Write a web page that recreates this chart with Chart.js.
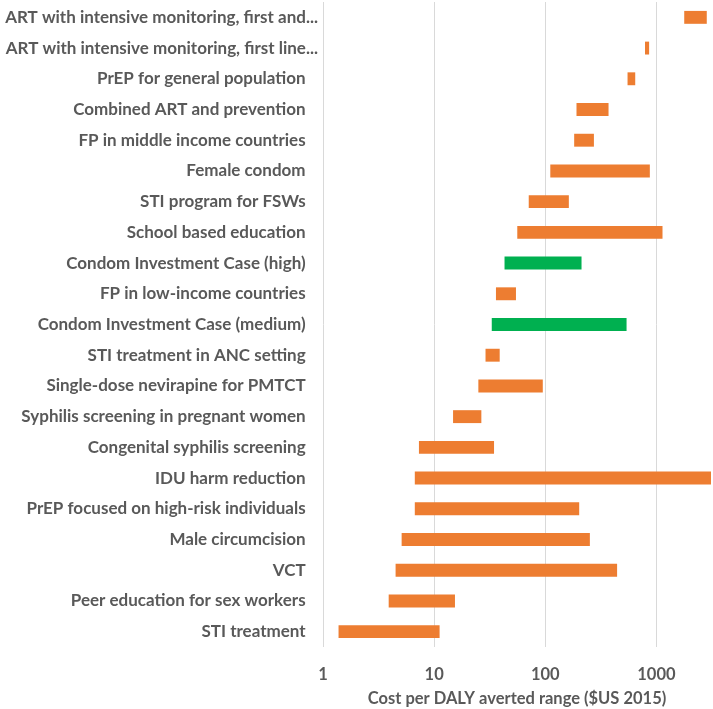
<!DOCTYPE html>
<html>
<head>
<meta charset="utf-8">
<script src="https://cdn.jsdelivr.net/npm/chart.js@4/dist/chart.umd.min.js"></script>
<style>
html,body{margin:0;padding:0;background:#fff;}
#wrap{width:713px;height:709px;position:relative;}
</style>
</head>
<body>
<div id="wrap"><canvas id="c"></canvas></div>
<script>
const categories = [
  "ART with intensive monitoring, first and...",
  "ART with intensive monitoring, first line...",
  "PrEP for general population",
  "Combined ART and prevention",
  "FP in middle income countries",
  "Female condom",
  "STI program for FSWs",
  "School based education",
  "Condom Investment Case (high)",
  "FP in low-income countries",
  "Condom Investment Case (medium)",
  "STI treatment in ANC setting",
  "Single-dose nevirapine for PMTCT",
  "Syphilis screening in pregnant women",
  "Congenital syphilis screening",
  "IDU harm reduction",
  "PrEP focused on high-risk individuals",
  "Male circumcision",
  "VCT",
  "Peer education for sex workers",
  "STI treatment"
];
const lowValues  = [1780, 790, 550, 191, 182, 111, 71, 56, 43, 36, 33, 29, 25, 14.8, 7.3, 6.7, 6.7, 5.1, 4.5, 3.9, 1.38];
const highValues = [2840, 860, 645, 371, 274, 873, 163, 1135, 212, 54.5, 539, 38.9, 95, 26.6, 34.6, 3100, 202, 252, 443, 15.4, 11.2];
const isInvestmentCase = [false,false,false,false,false,false,false,false,true,false,true,false,false,false,false,false,false,false,false,false,false];
const xTicks = [1, 10, 100, 1000];
const xTitle = "Cost per DALY averted range ($US 2015)";

const ORANGE = "#ED7D31", GREEN = "#00B050", GRAY = "#595959";
const FONT = "Lato";

const data = categories.map((c, i) => [lowValues[i], highValues[i]]);
const colors = isInvestmentCase.map(g => g ? GREEN : ORANGE);

new Chart(document.getElementById("c"), {
  type: "bar",
  data: {
    labels: categories,
    datasets: [{
      data: data,
      backgroundColor: colors,
      borderWidth: 0,
      barPercentage: 0.42,
      categoryPercentage: 1.0
    }]
  },
  options: {
    indexAxis: "y",
    responsive: true,
    maintainAspectRatio: false,
    animation: false,
    layout: { padding: { top: 2, right: 2, left: 0, bottom: 0 } },
    plugins: { legend: { display: false }, tooltip: { enabled: false } },
    scales: {
      x: {
        type: "logarithmic",
        min: 1,
        max: 3100,
        afterBuildTicks: (s) => { s.ticks = xTicks.map(v => ({ value: v })); },
        afterFit: (s) => { s.height = 62; s.paddingLeft = 0; s.paddingRight = 0; },
        border: { display: false },
        grid: { color: "#d9d9d9", lineWidth: 1, drawTicks: false },
        ticks: {
          color: GRAY,
          font: { family: FONT, size: 16.5, weight: "bold" },
          padding: 18,
          maxRotation: 0,
          autoSkip: false,
          callback: (v) => String(v)
        },
        title: {
          display: true,
          text: xTitle,
          color: GRAY,
          font: { family: FONT, size: 16.5, weight: "bold" },
          padding: { top: 0, bottom: 0 }
        }
      },
      y: {
        afterFit: (s) => { s.width = 323; s.paddingTop = 0; s.paddingBottom = 0; },
        border: { display: false },
        grid: { display: false, drawTicks: false },
        ticks: {
          color: GRAY,
          font: { family: FONT, size: 17, weight: "bold" },
          padding: 5,
          autoSkip: false,
          callback: function(v) {
            const t = this.getLabelForValue(v);
            return t.endsWith("...") ? t : t + "   ";
          }
        }
      }
    }
  }
});
</script>
</body>
</html>
